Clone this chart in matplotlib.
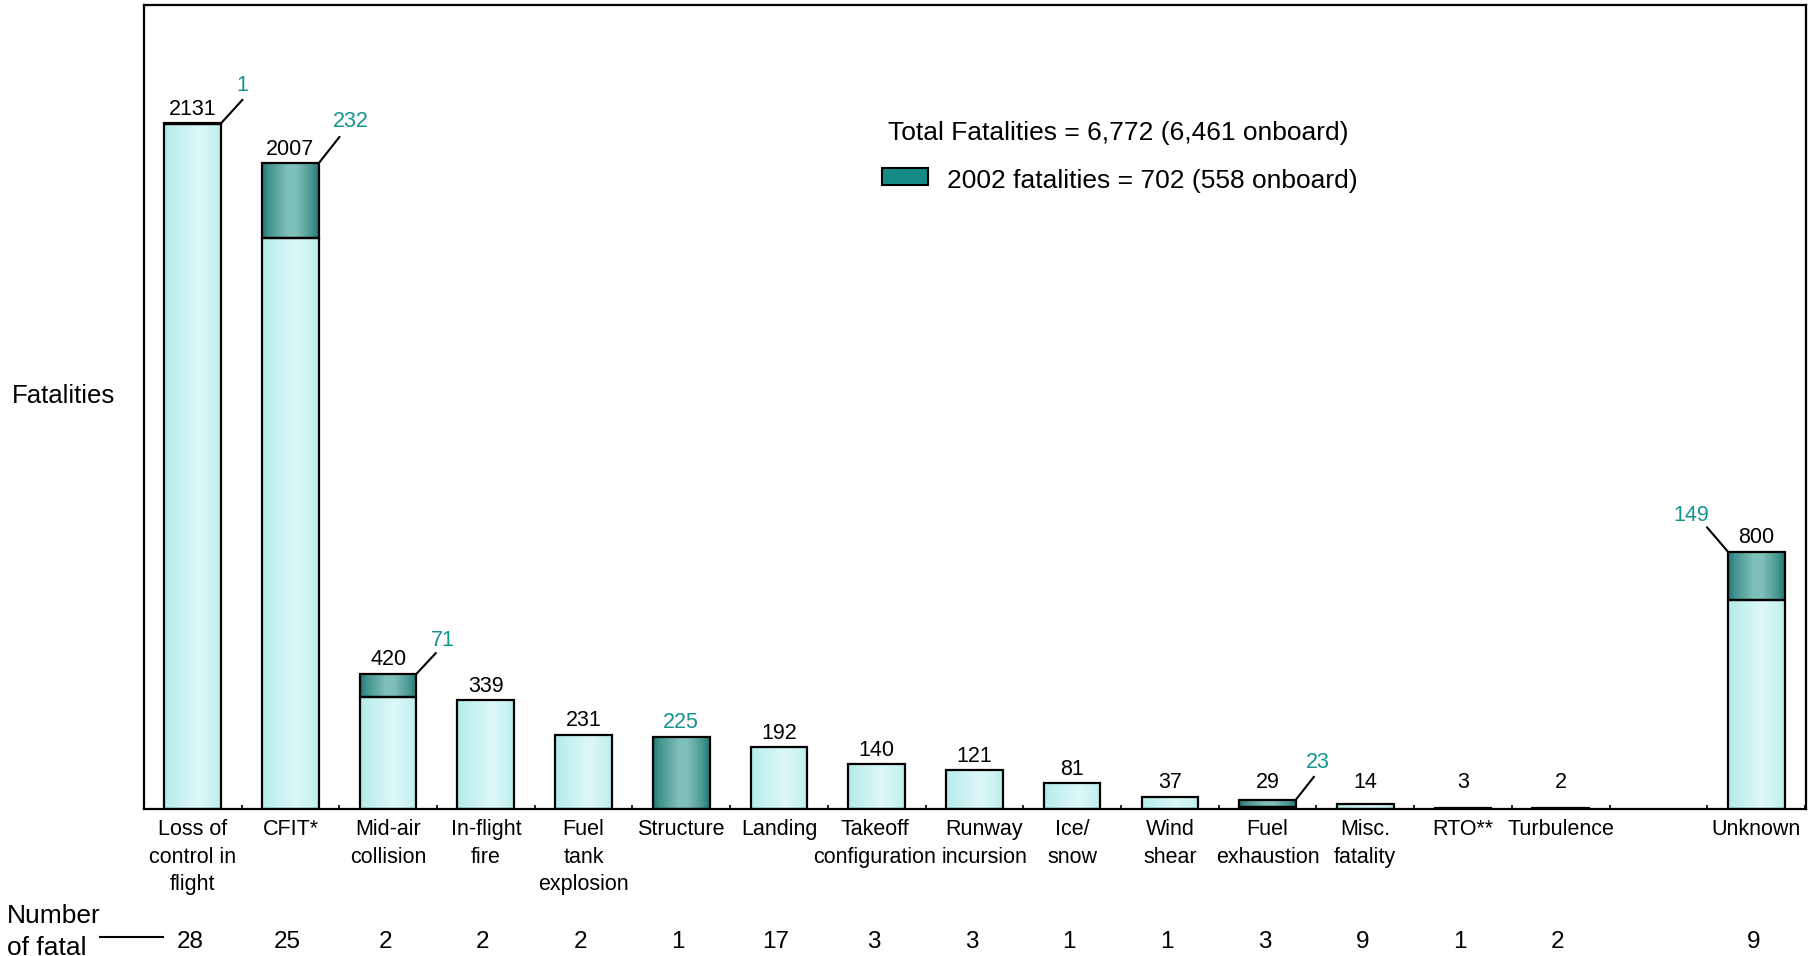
import numpy as np
import matplotlib
matplotlib.use('Agg')
import matplotlib.pyplot as plt
import matplotlib.transforms as mtransforms
from matplotlib.patches import Rectangle
from matplotlib.lines import Line2D

# fatalities by accident category, worldwide commercial jet fleet
categories = ['Loss of\ncontrol in\nflight', 'CFIT*', 'Mid-air\ncollision',
              'In-flight\nfire', 'Fuel\ntank\nexplosion', 'Structure',
              'Landing', 'Takeoff\nconfiguration', 'Runway\nincursion',
              'Ice/\nsnow', 'Wind\nshear', 'Fuel\nexhaustion', 'Misc.\nfatality',
              'RTO**', 'Turbulence', 'Unknown']
total_fatalities = [2131, 2007, 420, 339, 231, 225, 192, 140, 121, 81,
                    37, 29, 14, 3, 2, 800]
fatalities_2002 = [1, 232, 71, 0, 0, 225, 0, 0, 0, 0, 0, 23, 0, 0, 0, 149]
fatal_accidents = [28, 25, 2, 2, 2, 1, 17, 3, 3, 1, 1, 3, 9, 1, 2, 9]

legend_total = 'Total Fatalities = 6,772 (6,461 onboard)'
legend_2002 = '2002 fatalities = 702 (558 onboard)'

# where the teal 2002 callouts sit (offset points): leader line end, text
callouts = {
    0: ((15.5, 17), (15.5, 23)),
    1: ((15, 19), (23, 26)),
    2: ((14, 15), (19, 20)),
    11: ((13, 16.5), (15.5, 23)),
    15: ((-15, 17.5), (-26, 22)),
}
# small sideways nudges of the category names (in slots)
label_nudge = {7: -0.02, 8: 0.1}

plt.rcParams['font.family'] = ['Liberation Sans', 'DejaVu Sans']

TEAL_TEXT = '#14948f'
LEGEND_TEAL = '#148a86'


def shade(edge, peak, knots, weights, n=64):
    # horizontal cylinder-like shading across a bar
    t = np.linspace(0, 1, n)
    f = np.interp(t, knots, weights)[:, None]
    edge = np.array(edge)
    peak = np.array(peak)
    return edge * (1 - f) + peak * f


light_shade = shade((0.70, 0.925, 0.918), (0.865, 0.972, 0.966),
                    [0, 0.15, 0.6, 0.85, 1], [0, 0.3, 1, 0.6, 0.15])
dark_shade = shade((0.12, 0.47, 0.45), (0.50, 0.75, 0.73),
                   [0, 0.1, 0.45, 0.6, 0.85, 1], [0, 0.35, 1, 1, 0.5, 0.05])

fig = plt.figure(figsize=(18.18, 9.56), dpi=100)
ax = fig.add_axes([0.0791, 0.1538, 0.9143, 0.8414])

# one empty slot is left before "Unknown"
xpos = np.arange(len(categories), dtype=float)
xpos[-1] += 1

total = np.array(total_fatalities)
recent = np.array(fatalities_2002)
earlier = total - recent
half = 0.29

bars_old = ax.bar(xpos, earlier, width=2 * half, facecolor='none',
                  edgecolor='black', linewidth=1.6, zorder=3)
bars_new = ax.bar(xpos, recent, bottom=earlier, width=2 * half,
                  facecolor='none', edgecolor='black', linewidth=1.6, zorder=3)


def fill_gradient(bar, colors):
    x0, y0 = bar.get_x(), bar.get_y()
    w, h = bar.get_width(), bar.get_height()
    ax.imshow(colors[np.newaxis, :, :], extent=(x0, x0 + w, y0, y0 + h),
              aspect='auto', interpolation='bilinear', zorder=2)


for bar, v in zip(bars_old, earlier):
    if v == 0:
        bar.set_visible(False)
    else:
        fill_gradient(bar, light_shade)
for bar, v in zip(bars_new, recent):
    if v == 0:
        bar.set_visible(False)
    else:
        fill_gradient(bar, dark_shade)

ax.set_xlim(-0.46, 16.51)
ax.set_ylim(0, 2500)

for sp in ax.spines.values():
    sp.set_linewidth(1.6)
ax.set_yticks([])
ax.set_xticks([])
ax.set_xticks(np.arange(-0.5, 16.6, 1), minor=True)
ax.tick_params(axis='x', which='minor', direction='in', length=3, width=1.2,
               labelbottom=False)

# value labels
for i, x in enumerate(xpos):
    tot = total_fatalities[i]
    new = fatalities_2002[i]
    y = max(tot, 40)
    if new == tot:
        ax.annotate(str(new), (x, y), xytext=(0, 6), textcoords='offset points',
                    ha='center', va='baseline', fontsize=15.5, color=TEAL_TEXT)
        continue
    ax.annotate(str(tot), (x, y), xytext=(0, 6), textcoords='offset points',
                ha='center', va='baseline', fontsize=15.5, color='black')
    if new > 0:
        line_end, text_pos = callouts[i]
        corner_x = x + half if line_end[0] > 0 else x - half
        ax.annotate('', (corner_x, tot), xytext=line_end,
                    textcoords='offset points',
                    arrowprops=dict(arrowstyle='-', color='black', lw=1.5,
                                    shrinkA=0, shrinkB=0))
        ax.annotate(str(new), (corner_x, tot), xytext=text_pos,
                    textcoords='offset points', ha='center', va='baseline',
                    fontsize=15.5, color=TEAL_TEXT)

# category names under the axis
for i, (x, cat) in enumerate(zip(xpos, categories)):
    ax.annotate(cat, (x + label_nudge.get(i, 0), 0),
                xycoords=('data', 'axes fraction'),
                xytext=(0, -7), textcoords='offset points', ha='center',
                va='top', fontsize=15.5, linespacing=1.43)

# number of fatal accidents row
row = mtransforms.blended_transform_factory(ax.transData, fig.transFigure)
for x, n in zip(xpos, fatal_accidents):
    fig.text(x - 0.03, 0.008, str(n), ha='center', va='baseline',
             fontsize=17.5, transform=row)

fig.text(0.0037, 0.0342, 'Number', ha='left', va='baseline', fontsize=19)
fig.text(0.0037, 0.001, 'of fatal', ha='left', va='baseline', fontsize=19)
fig.add_artist(Line2D([0.055, 0.0898], [0.0196, 0.0196], color='black',
                      lw=1.5, transform=fig.transFigure))

fig.text(0.0064, 0.578, 'Fatalities', ha='left', va='baseline', fontsize=18.5)

# legend block
fig.text(0.4886, 0.8536, legend_total, ha='left', va='baseline', fontsize=19)
fig.add_artist(Rectangle((0.485, 0.8065), 0.0256, 0.0175,
                         facecolor=LEGEND_TEAL, edgecolor='black', lw=1.5,
                         transform=fig.transFigure))
fig.text(0.5207, 0.8033, legend_2002, ha='left', va='baseline', fontsize=19)

fig.savefig('out.png', dpi=100)
